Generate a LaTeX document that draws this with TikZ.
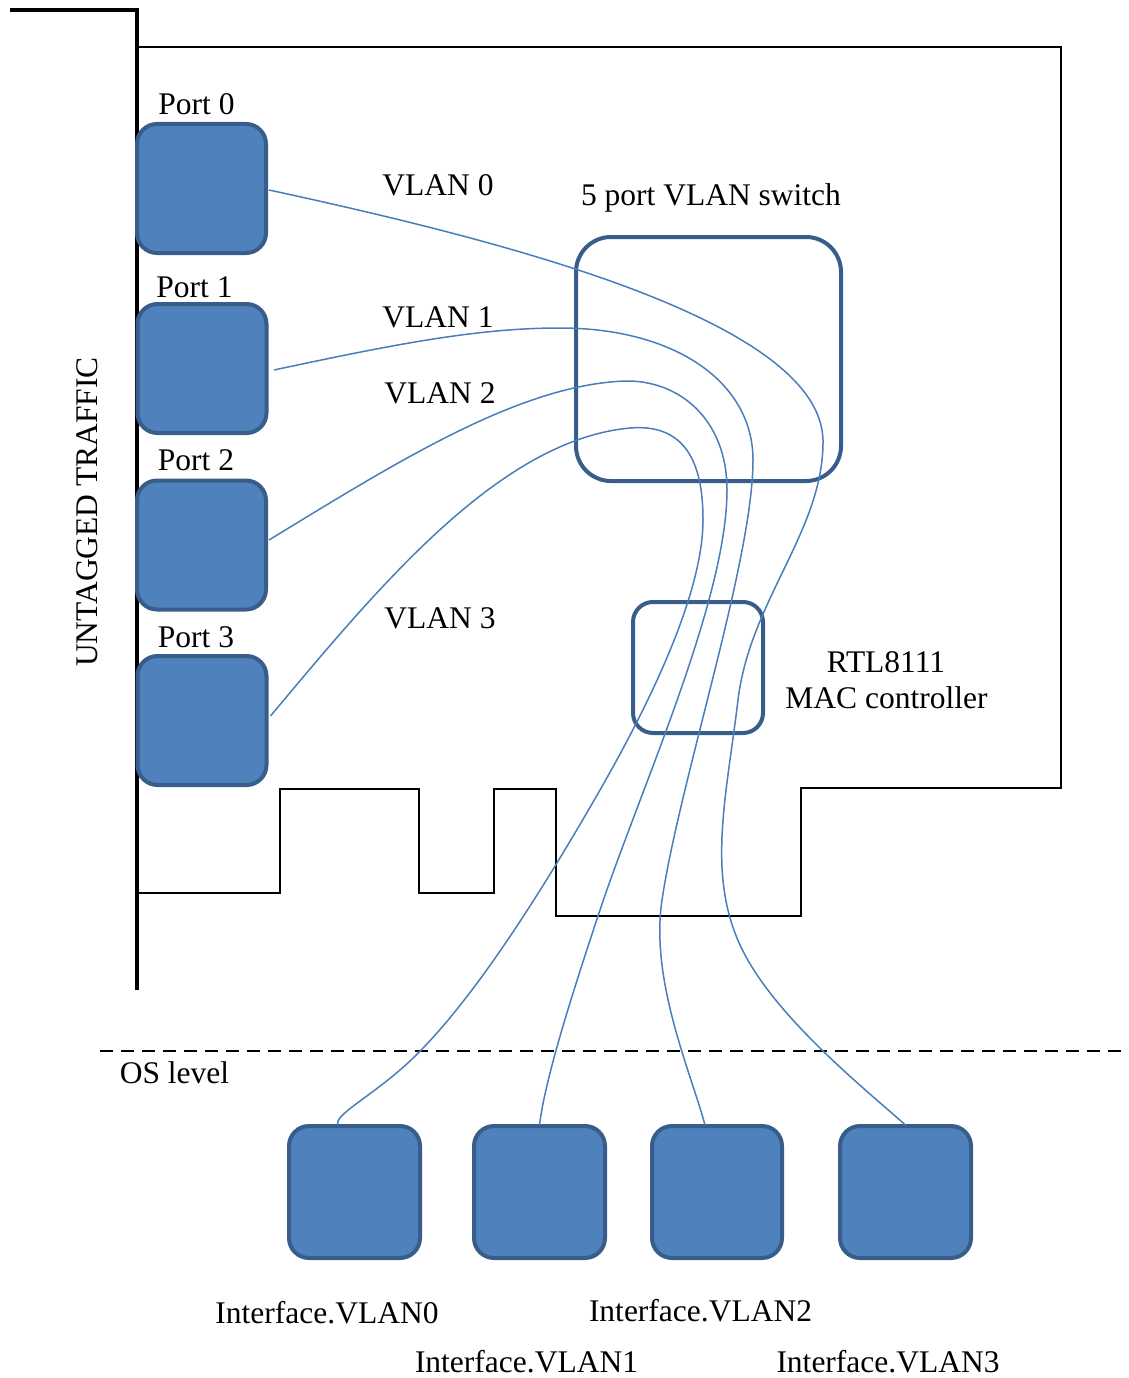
\documentclass[tikz,border=0pt]{standalone}
\usepackage{fontspec}
\setmainfont{Liberation Serif}
\definecolor{boxfill}{HTML}{4F81BD}
\definecolor{boxline}{HTML}{385D8A}
\definecolor{wire}{HTML}{4A7EBB}
\begin{document}
\begin{tikzpicture}[x=1pt,y=-1pt,
  every node/.style={font=\fontsize{31.5}{36}\selectfont},
  portbox/.style={draw=boxline,line width=4pt,fill=boxfill,rounded corners=20pt,minimum width=129pt,minimum height=129pt,inner sep=0pt},
  chipbox/.style={draw=boxline,line width=4pt,rounded corners=#1,inner sep=0pt},
  lbl/.style={anchor=base,inner sep=0pt},
  wireline/.style={draw=wire,line width=1.5pt},
  board/.style={line width=2pt},
]
\useasboundingbox (0,0) rectangle (1129,1378);
% bracket
\draw[line width=4pt] (10,10) -- (137,10) -- (137,990);
% board outline
\draw[board] (137,47) -- (1061,47) -- (1061,788) -- (801,788) -- (801,916) -- (556,916) -- (556,789) -- (494,789) -- (494,893) -- (419,893) -- (419,789) -- (280,789) -- (280,893) -- (137,893);
% dashed OS line
\draw[line width=2.5pt,dash pattern=on 13pt off 8pt] (100,1051) -- (1129,1051);
% ports
\node[portbox] (p0) at (201.5,188.5) {};
\node[portbox] (p1) at (202,368.5) {};
\node[portbox] (p2) at (201.5,545) {};
\node[portbox] (p3) at (202,720.5) {};
% switch and MAC
\node[chipbox=35pt,minimum width=265pt,minimum height=244pt] (sw) at (708.5,359) {};
\node[chipbox=20pt,minimum width=130pt,minimum height=131pt] (mac) at (698,667.5) {};
% interfaces
\node[portbox,minimum width=131pt,minimum height=132pt] (i0) at (354.5,1192) {};
\node[portbox,minimum width=131pt,minimum height=132pt] (i1) at (539.5,1192) {};
\node[portbox,minimum width=130pt,minimum height=132pt] (i2) at (717,1192) {};
\node[portbox,minimum width=131pt,minimum height=132pt] (i3) at (905.5,1192) {};
% labels
\node[lbl] (lp0) at (196.5,114) {Port 0};
\node[lbl] (lp1) at (194.5,297) {Port 1};
\node[lbl] (lp2) at (196,470) {Port 2};
\node[lbl] (lp3) at (196,647) {Port 3};
\node[lbl] (lv0) at (438,195) {VLAN 0};
\node[lbl] (lv1) at (438,327) {VLAN 1};
\node[lbl] (lv2) at (440,403) {VLAN 2};
\node[lbl] (lv3) at (440,628) {VLAN 3};
\node[lbl] (lsw) at (711,205) {5 port VLAN switch};
\node[lbl] (lrtl) at (886,672) {RTL8111};
\node[lbl] (lmac) at (886.5,708) {MAC controller};
\node[lbl] (los) at (174.5,1083) {OS level};
\node[lbl] (li0) at (327,1323) {Interface.VLAN0};
\node[lbl] (li2) at (700.5,1321) {Interface.VLAN2};
\node[lbl] (li1) at (526.5,1372) {Interface.VLAN1};
\node[lbl] (li3) at (888,1372) {Interface.VLAN3};
\node[anchor=base,inner sep=0pt,rotate=90] (lut) at (97,512) {UNTAGGED TRAFFIC};
% wire waypoints
\coordinate (a1) at (823,440); \coordinate (a2) at (738,700); \coordinate (a3) at (745,955);
\coordinate (b1) at (560,328); \coordinate (b2) at (753,460); \coordinate (b3) at (662,900);
\coordinate (c1) at (625,381); \coordinate (c2) at (727,490); \coordinate (c3) at (600,910);
\coordinate (d1) at (630,428); \coordinate (d2) at (703,520); \coordinate (d3) at (600,790); \coordinate (d4) at (400,1070);
% wires
\draw[wireline] ([xshift=1pt]p0.east|-0,190) .. controls (500,240) and (820,320) .. (a1)
  .. controls (824,530) and (750,600) .. (a2)
  .. controls (726,800) and (705,880) .. (a3)
  .. controls (780,1020) and (860,1085) .. ([yshift=-1pt]i3.north);
\draw[wireline] (274,370) .. controls (400,343) and (480,328) .. (b1)
  .. controls (675,328) and (753,382) .. (b2)
  .. controls (753,560) and (680,780) .. (b3)
  .. controls (650,980) and (690,1070) .. ([xshift=-12pt,yshift=-1pt]i2.north);
\draw[wireline] ([xshift=1pt]p2.east|-0,540) .. controls (400,460) and (520,385) .. (c1)
  .. controls (680,380) and (727,420) .. (c2)
  .. controls (727,600) and (640,790) .. (c3)
  .. controls (570,1000) and (545,1080) .. ([yshift=-1pt]i1.north);
\draw[wireline] ([xshift=2pt]p3.east|-0,716) .. controls (380,585) and (500,440) .. (d1)
  .. controls (690,423) and (703,470) .. (d2)
  .. controls (703,600) and (640,720) .. (d3)
  .. controls (550,877) and (470,1010) .. (d4)
  .. controls (365,1100) and (335,1115) .. ([xshift=-17pt,yshift=-1pt]i0.north);
\end{tikzpicture}
\end{document}
